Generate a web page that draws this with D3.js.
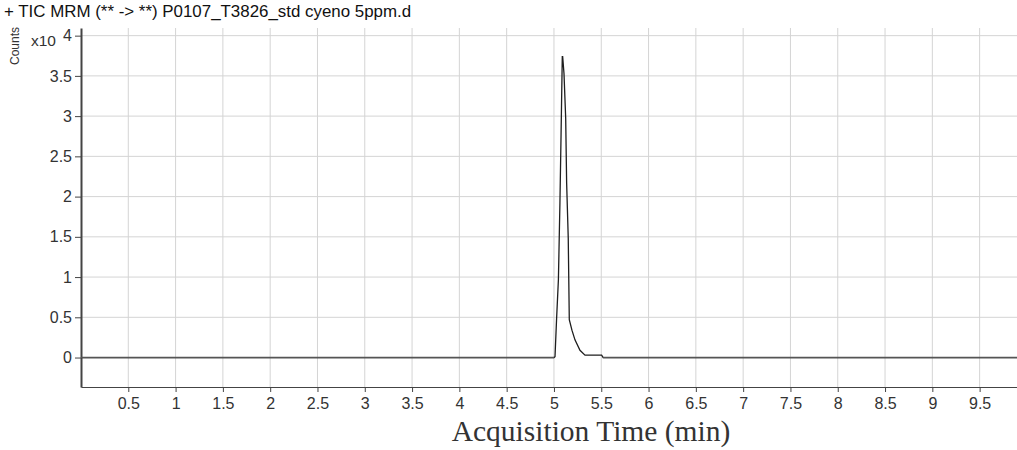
<!DOCTYPE html>
<html>
<head>
<meta charset="utf-8">
<script src="https://cdn.jsdelivr.net/npm/d3@7"></script>
<style>
  body { margin: 0; background: #fff; }
  text { font-family: "Liberation Sans", Arial, sans-serif; }
</style>
</head>
<body>
<div class="root"></div>
<script>
// chromatogram trace, time in minutes, counts in units of 10^4
var times  = [0.0, 5.00, 5.011, 5.028, 5.047, 5.063, 5.075, 5.088, 5.092, 5.106, 5.124, 5.134, 5.151, 5.162, 5.19, 5.222, 5.275, 5.328, 5.40, 5.504, 5.52, 9.9];
var counts = [0.0, 0.0,  0.01,  0.49,  0.97,  1.92,  2.77,  3.74,  3.74,  3.53,  2.97,  2.17,  1.48,  0.47,  0.34, 0.22,  0.09,  0.03,  0.03, 0.03,  0.0,  0.0];

var xTicks = [0.5, 1, 1.5, 2, 2.5, 3, 3.5, 4, 4.5, 5, 5.5, 6, 6.5, 7, 7.5, 8, 8.5, 9, 9.5];
var yTicks = [0, 0.5, 1, 1.5, 2, 2.5, 3, 3.5, 4];

var title  = '+ TIC MRM (** -> **) P0107_T3826_std cyeno 5ppm.d';
var xTitle = 'Acquisition Time (min)';

var width = 1017, height = 450;
var plotLeft = 81, plotRight = 1017, plotTop = 28, plotBottom = 387;

var svg = d3.select('.root').append('svg')
            .attr('width', width)
            .attr('height', height);

var x = d3.scaleLinear().domain([0, 9.895]).range([plotLeft, plotRight]);
var y = d3.scaleLinear().domain([-0.366, 4.095]).range([plotBottom, plotTop]);

// grid
svg.append('g').selectAll('line')
   .data(xTicks).enter().append('line')
   .attr('x1', d => x(d)).attr('x2', d => x(d))
   .attr('y1', plotTop).attr('y2', plotBottom)
   .style('stroke', '#d4d4d4').style('stroke-width', 1);

svg.append('g').selectAll('line')
   .data(yTicks.filter(d => d > 0)).enter().append('line')
   .attr('x1', plotLeft).attr('x2', plotRight)
   .attr('y1', d => y(d)).attr('y2', d => y(d))
   .style('stroke', '#d4d4d4').style('stroke-width', 1);

// axes
var xAxis = svg.append('g')
   .attr('transform', 'translate(0,' + plotBottom + ')')
   .call(d3.axisBottom(x).tickValues(xTicks).tickSize(5).tickFormat(d3.format('')).tickSizeOuter(0));

var yAxis = svg.append('g')
   .attr('transform', 'translate(' + plotLeft + ',0)')
   .call(d3.axisLeft(y).tickValues(yTicks).tickSize(6).tickFormat(d3.format('')).tickSizeOuter(0));

[xAxis, yAxis].forEach(function (a) {
  a.select('.domain').style('stroke', '#444');
  a.selectAll('.tick line').style('stroke', '#444');
  a.selectAll('.tick text')
   .style('font-size', '16px')
   .style('fill', '#333')
   .style('font-family', '"Liberation Sans", Arial, sans-serif');
});
xAxis.selectAll('.tick text').attr('y', 11);
yAxis.select('.domain').style('stroke-width', 2);
yAxis.selectAll('.tick text').attr('x', -9);

// trace
var line = d3.line()
             .x((d, i) => x(times[i]))
             .y(d => y(d));

svg.append('path')
   .datum(counts)
   .attr('d', line)
   .style('fill', 'none')
   .style('stroke', '#1e1e1e')
   .style('stroke-width', 1.3);

// baseline is drawn darker/greyer in the reference
svg.append('line')
   .attr('x1', x(0)).attr('x2', x(5.0))
   .attr('y1', y(0)).attr('y2', y(0))
   .style('stroke', '#555').style('stroke-width', 1.6);
svg.append('line')
   .attr('x1', x(5.52)).attr('x2', plotRight)
   .attr('y1', y(0)).attr('y2', y(0))
   .style('stroke', '#555').style('stroke-width', 1.6);

// labels
svg.append('text')
   .attr('x', 4).attr('y', 17)
   .style('font-size', '16.9px')
   .style('fill', '#111')
   .text(title);

svg.append('text')
   .attr('transform', 'translate(19,46) rotate(-90)')
   .attr('text-anchor', 'middle')
   .style('font-size', '12px')
   .style('fill', '#333')
   .text('Counts');

svg.append('text')
   .attr('x', 31).attr('y', 46)
   .style('font-size', '15.5px')
   .style('fill', '#333')
   .text('x10');

svg.append('text')
   .attr('x', 591).attr('y', 441)
   .attr('text-anchor', 'middle')
   .style('font-family', '"Liberation Serif", "Times New Roman", serif')
   .style('font-size', '29.5px')
   .style('fill', '#333')
   .text(xTitle);
</script>
</body>
</html>
